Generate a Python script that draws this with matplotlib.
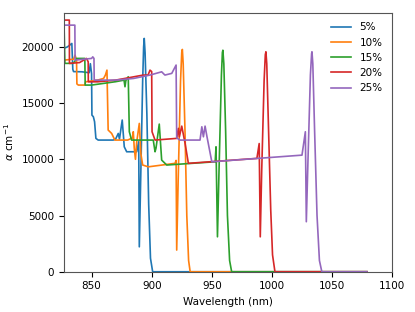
import numpy as np
import matplotlib
matplotlib.use('Agg')
import matplotlib.pyplot as plt

labels = ['5%', '10%', '15%', '20%', '25%']

wl_5 = [826.9, 830, 833.6, 834.4, 835, 842, 848, 849, 850, 850.3, 851.5, 852.5, 853.6, 855.5,
        868, 870, 872.2, 873.2, 875.5, 877.2, 879.2, 887.5, 889.2, 889.7, 891, 892.5, 893.3,
        893.8, 894.5, 896, 897.5, 899, 900.8, 1079]
a_5 = [19860, 20000, 20300, 18000, 17800, 17780, 17700, 18500, 17600, 13930, 13780, 13340, 11860, 11710,
       11710, 11800, 12300, 11800, 13490, 11110, 10670, 10670, 11560, 2220, 9000, 17000, 20000,
       20750, 19500, 14000, 6000, 1200, 0, 0]

wl_10 = [826.9, 835, 836.3, 837.5, 837.8, 839, 844.4, 845, 855, 860, 861.5, 862.8, 863.8, 866.7,
         869.4, 880, 884, 884.7, 885.5, 886.5, 887.5, 889.7, 891, 892.5, 897.2, 919.4, 920.3,
         920.8, 922, 924, 925, 925.5, 926.2, 927.7, 929.2, 930.7, 932, 1079]
a_10 = [18820, 18900, 19260, 18800, 16700, 16600, 16600, 16890, 17040, 17190, 17490, 17930, 12600, 12300,
        11710, 11710, 11900, 12450, 11000, 10000, 11500, 13190, 10500, 9490, 9330, 9640, 9900,
        1930, 8000, 17000, 19500, 19770, 18500, 12500, 5000, 1000, 0, 0]

wl_15 = [826.9, 827.8, 834.7, 836, 837.5, 844.4, 844.7, 850, 860, 870, 877, 877.8, 878.5, 880.5,
         881.4, 883.3, 901.3, 902.8, 903.6, 906.3, 908.3, 912.5, 952.8, 953.5, 954.7, 956,
         958, 958.8, 959.2, 960, 961.5, 963, 964.8, 966.5, 1079]
a_15 = [22970, 18530, 18530, 18700, 18970, 18970, 16600, 16600, 16750, 16900, 17040, 16450, 17000, 17340,
        12450, 11710, 11710, 10670, 11000, 13130, 9930, 9490, 9780, 11110, 3110, 9000,
        17500, 19500, 19700, 18500, 12500, 5000, 1000, 0, 0]

wl_20 = [826.9, 831.5, 831.6, 840, 845.8, 847.2, 847.3, 855, 870, 893, 897, 898.6, 900, 900.3,
         902.8, 920.8, 922.2, 923, 925, 927.8, 930.5, 987.5, 989.4, 990.3, 991.5, 993.5, 994.5,
         995, 995.7, 997.2, 999, 1000.5, 1002.5, 1079]
a_20 = [22380, 22380, 18530, 18600, 18970, 18670, 16890, 16890, 17040, 17490, 17490, 17930, 17800, 12450,
        11710, 11860, 12750, 12000, 12950, 11400, 9640, 10080, 11400, 3110, 9000, 17000, 19300,
        19560, 18500, 12600, 5500, 1500, 0, 0]

wl_25 = [827.8, 836.1, 836.3, 850, 851, 852, 852.2, 870, 885, 898.6, 908.3, 911, 916.7, 920.3,
         920.8, 923.6, 940.2, 941.7, 943, 944.4, 946, 950, 1025, 1027.8, 1028.6, 1030, 1032,
         1033, 1033.3, 1034, 1035.5, 1037.5, 1039.5, 1041.5, 1079]
a_25 = [21930, 21930, 18820, 18970, 19110, 18970, 17040, 17040, 17190, 17490, 17780, 17490, 17640, 18380,
        11900, 11710, 11710, 12890, 12000, 12950, 12000, 9780, 10370, 12450, 4450, 10000, 17500,
        19400, 19560, 18500, 12500, 5000, 1000, 0, 0]

wls = [wl_5, wl_10, wl_15, wl_20, wl_25]
alphas = [a_5, a_10, a_15, a_20, a_25]

plt.rcParams['font.size'] = 7.5
fig = plt.figure(figsize=(4.15, 3.12), dpi=100)
ax = fig.add_axes([0.154, 0.129, 0.791, 0.829])

for wl, a, lab in zip(wls, alphas, labels):
    ax.plot(wl, a, lw=1.2, label=lab)

ax.set_xlim(827, 1100)
ax.set_ylim(0, 23000)
ax.set_xlabel('Wavelength (nm)', fontsize=7.5)
ax.set_ylabel(r'$\alpha$ cm$^{-1}$', fontsize=7.5)
ax.legend(frameon=False, fontsize=7.5)
for s in ax.spines.values():
    s.set_color('#555555')

fig.savefig('out.png', dpi=100)
